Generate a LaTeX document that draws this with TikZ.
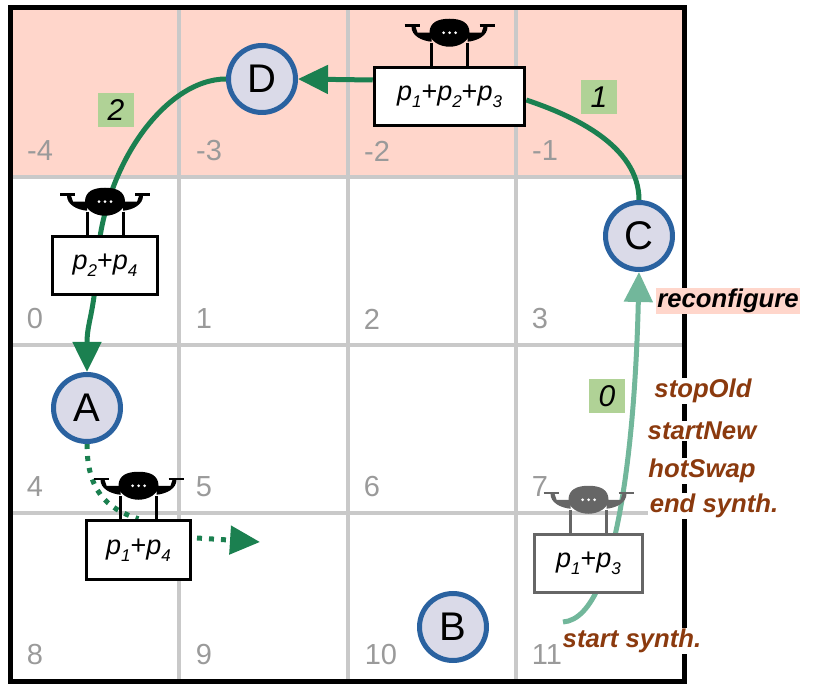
\documentclass[tikz,border=0pt]{standalone}
\usepackage{fontspec}
\setmainfont{Liberation Sans}
\usetikzlibrary{arrows.meta,backgrounds}
\definecolor{roofpink}{HTML}{FFD6CB}
\definecolor{gridgray}{HTML}{C9C9C9}
\definecolor{numgray}{HTML}{9A9A9A}
\definecolor{pathdark}{HTML}{1B8050}
\definecolor{pathlight}{HTML}{72B79B}
\definecolor{tagbrown}{HTML}{8B3A0E}
\definecolor{labgreen}{HTML}{B0D296}
\definecolor{stopfill}{HTML}{DADAE8}
\definecolor{stopblue}{HTML}{2A62A0}
\definecolor{dronegray}{HTML}{666666}
\newcommand{\psub}[1]{\emph{p}\raisebox{-7pt}{\fontsize{17}{17}\selectfont\emph{#1}}}
\tikzset{
	stopnode/.style={circle,draw=stopblue,fill=stopfill,line width=5pt,minimum size=67pt,inner sep=0pt,font=\fontsize{40}{40}\selectfont},
	loadbox/.style={draw=#1,fill=white,line width=3.5pt,inner sep=0pt,font=\fontsize{27}{30}\selectfont},
	loadbox/.default=black,
	cellnum/.style={text=numgray,inner sep=0pt,font=\fontsize{29}{32}\selectfont},
	leglabel/.style={fill=labgreen,inner sep=0pt,minimum width=36pt,minimum height=34pt,font=\itshape\fontsize{30}{32}\selectfont},
	taglabel/.style={fill=white,text=tagbrown,inner sep=1.5pt,font=\bfseries\itshape\fontsize{25.7}{28}\selectfont},
	flowdark/.style={pathdark,line width=5pt},
	flowlight/.style={pathlight,line width=5pt},
	flowdots/.style={pathdark,line width=5pt,dash pattern=on 5pt off 7pt},
	bigtip/.style={-{Triangle[length=30pt,width=28pt]}},
	pics/drone/.style={code={
		\draw[#1,line width=3pt] (-18,-23) -- (-18,0) (18,-23) -- (18,0);
		\fill[#1] (-20,-33) .. controls (-20,-43) and (-12,-47) .. (0,-47) .. controls (12,-47) and (20,-43) .. (20,-33)
			.. controls (20,-25) and (10,-19) .. (0,-19) .. controls (-10,-19) and (-20,-25) .. (-20,-33) -- cycle;
		\fill[#1] (-38,-39) -- (-34,-39) -- (-32,-33) -- (-18,-33) -- (-18,-24)
			.. controls (-28,-25) and (-38,-30) .. (-38,-39) -- cycle;
		\fill[#1] (38,-39) -- (34,-39) -- (32,-33) -- (18,-33) -- (18,-24)
			.. controls (28,-25) and (38,-30) .. (38,-39) -- cycle;
		\draw[#1,line width=2.5pt] (-45,-40) -- (-30,-40) (30,-40) -- (45,-40);
		\foreach \dotx in {-6,0,6} \fill[white] (\dotx,-33) circle (1.5);
	}}
}
\begin{document}
\begin{tikzpicture}[x=1pt,y=-1pt]
	\useasboundingbox (0,0) rectangle (830,684);
	% floor plan
	\begin{scope}[on background layer]
		\fill[roofpink] (10,8) rectangle (684,177);
		\foreach \gridpos in {179,348,516} {
			\draw[gridgray,line width=3.5pt] (\gridpos,8) -- (\gridpos,681);
		}
		\foreach \gridpos in {177,345,513} {
			\draw[gridgray,line width=3.5pt] (10,\gridpos) -- (684,\gridpos);
		}
		\draw[black,line width=5pt] (10,8) rectangle (684,681);
		% cell numbers
		\foreach \cellx/\celly/\cellname in {40/151/-4,209/151/-3,377/151/-2,545/151/-1,35/319/0,204/319/1,372/319/2,540/319/3,35/487/4,204/487/5,372/487/6,540/487/7,35/655/8,204/655/9,381/655/10,547/655/11} {
			\node[cellnum] (n\cellname) at (\cellx,\celly) {\cellname};
		}
	\end{scope}
	% stops and loads
	\node[loadbox,minimum width=150pt,minimum height=58pt] (p123) at (449.5,96.5) {\psub{1}+\psub{2}+\psub{3}};
	\node[loadbox,minimum width=105pt,minimum height=58pt] (p24) at (105,265.5) {\psub{2}+\psub{4}};
	\node[loadbox,minimum width=104pt,minimum height=59pt] (p14) at (138.5,550) {\psub{1}+\psub{4}};
	\node[loadbox=dronegray,minimum width=108pt,minimum height=58pt] (p13) at (588.5,563.5) {\psub{1}+\psub{3}};
	\node[stopnode] (D) at (262,79) {D};
	\node[stopnode] (C) at (639,236) {C};
	\node[stopnode] (A) at (87,408) {A};
	\node[stopnode] (B) at (453,627) {B};
	\pic at (p123.north) {drone=black};
	\pic at (p24.north) {drone=black};
	\pic at (p14.north) {drone=black};
	\pic at (p13.north) {drone=dronegray};
	\coordinate (synth) at (563,622);
	\coordinate (dotstart) at (197,538);
	\coordinate (dotend) at (260,542);
	\coordinate (bend) at (97,265);
	% routes
	\begin{scope}[on background layer]
		\draw[flowdark] (C.north) .. controls +(0,-55) and +(45,15) .. (p123.east |- 0,100);
		\draw[flowdark,bigtip] (p123.west |- 0,80) -- (D.east);
		\draw[flowdark,bigtip] (D.west) .. controls +(-60,0) and +(5,-100) .. (bend)
			.. controls +(-3,50) and +(0,-50) .. (A.north);
		\draw[flowdots] (A.south) .. controls +(0,45) and +(-33,-10) .. (p14.north);
		\draw[flowdots,bigtip] (dotstart) -- (dotend);
		\draw[flowlight,bigtip] (synth) .. controls +(60,-4) and +(-3,130) .. (C.south);
	\end{scope}
	% labels
	\node[leglabel] (leg2) at (116,110) {2};
	\node[leglabel] (leg1) at (599,97) {1};
	\node[leglabel] (leg0) at (607,396) {0};
	\node[taglabel,fill=roofpink,text=black] (reconf) at (728,301) {reconfigure};
	\node[taglabel] (stopold) at (703,391) {stopOld};
	\node[taglabel] (startnew) at (702,431) {startNew};
	\node[taglabel] (hotswap) at (702,471) {hotSwap};
	\node[taglabel] (endsynth) at (714,506) {end synth.};
	\node[taglabel] (startsynth) at (632,641) {start synth.};
\end{tikzpicture}
\end{document}
